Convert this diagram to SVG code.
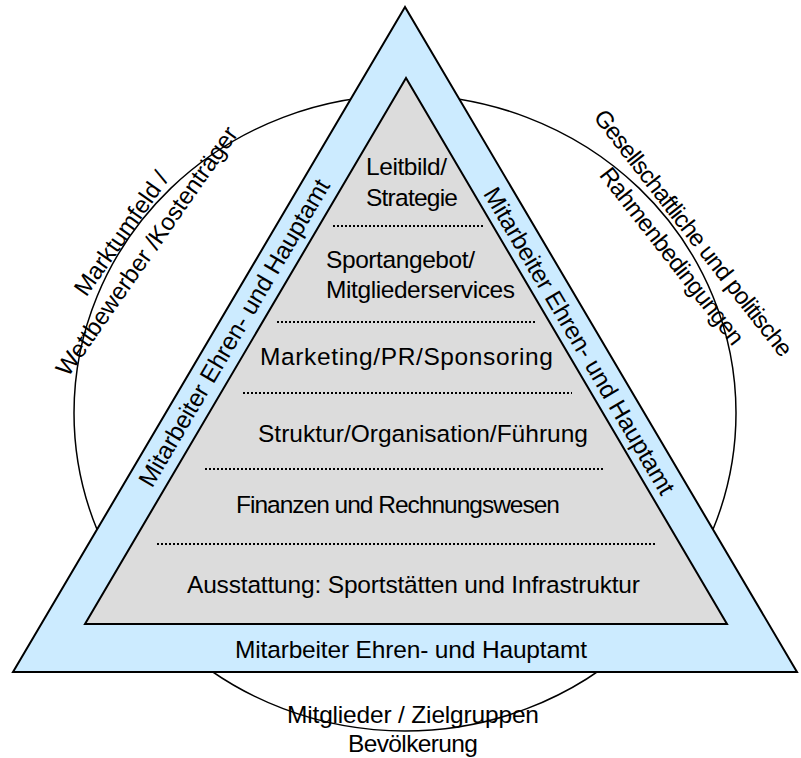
<svg xmlns="http://www.w3.org/2000/svg" width="801" height="758" viewBox="0 0 801 758">
<style>
text{font-family:"Liberation Sans",Arial,sans-serif;font-size:24.5px;fill:#000}
.mid{text-anchor:middle}
.out{font-size:24px}
.dot{stroke:#000;stroke-width:2;stroke-dasharray:2 2;fill:none}
</style>
<rect width="801" height="758" fill="#fff"/>
<g id="umfeld">
<ellipse cx="405" cy="413" rx="331" ry="318" fill="none" stroke="#000" stroke-width="1.5"/>
</g>
<g id="outer-triangle">
<polygon points="405,7 13,672 797,672" fill="#CCEBFF" stroke="#000" stroke-width="2"/>
</g>
<g id="pyramid">
<polygon points="406,78 85,624 727,624" fill="#DCDCDC" stroke="#000" stroke-width="2"/>
</g>
<g id="connectors">
<line class="dot" x1="333" y1="226" x2="483" y2="226"/>
<line class="dot" x1="277" y1="322" x2="535" y2="322"/>
<line class="dot" x1="243" y1="393" x2="572" y2="393"/>
<line class="dot" x1="205" y1="469" x2="605" y2="469"/>
<line class="dot" x1="157" y1="544" x2="655" y2="544"/>
</g>
<g id="layer-leitbild">
<text x="366" y="175" textLength="81">Leitbild/</text>
<text x="366" y="206" textLength="92">Strategie</text>
</g>
<g id="layer-sport">
<text x="326" y="268" textLength="149">Sportangebot/</text>
<text x="326" y="298" textLength="189">Mitgliederservices</text>
</g>
<g id="layer-marketing">
<text x="260" y="365" textLength="293">Marketing/PR/Sponsoring</text>
</g>
<g id="layer-struktur">
<text x="258" y="442" textLength="330">Struktur/Organisation/Führung</text>
</g>
<g id="layer-finanzen">
<text x="236" y="513" textLength="324">Finanzen und Rechnungswesen</text>
</g>
<g id="layer-ausstattung">
<text x="187" y="593" textLength="453">Ausstattung: Sportstätten und Infrastruktur</text>
</g>
<g id="band-bottom">
<text x="235" y="658" textLength="352">Mitarbeiter Ehren- und Hauptamt</text>
</g>
<g id="band-left" transform="translate(234.4,333) rotate(-59.5)">
<text class="mid" x="0" y="8" textLength="352">Mitarbeiter Ehren- und Hauptamt</text>
</g>
<g id="band-right" transform="translate(579,341) rotate(59.5)">
<text class="mid" x="0" y="8" textLength="352">Mitarbeiter Ehren- und Hauptamt</text>
</g>
<g id="label-markt" transform="translate(128,238) rotate(-55)">
<text class="mid out" x="0" y="0">Marktumfeld /</text>
<text class="mid out" x="0" y="31" textLength="298">Wettbewerber /Kostenträger</text>
</g>
<g id="label-gesellschaft" transform="translate(690,242) rotate(52)">
<text class="mid out" x="-5" y="0" textLength="306">Gesellschaftliche und politische</text>
<text class="mid out" x="0" y="31" textLength="218">Rahmenbedingungen</text>
</g>
<g id="label-mitglieder">
<text class="mid" x="413" y="723" textLength="252">Mitglieder / Zielgruppen</text>
<text class="mid" x="413" y="752" textLength="130">Bevölkerung</text>
</g>
</svg>
